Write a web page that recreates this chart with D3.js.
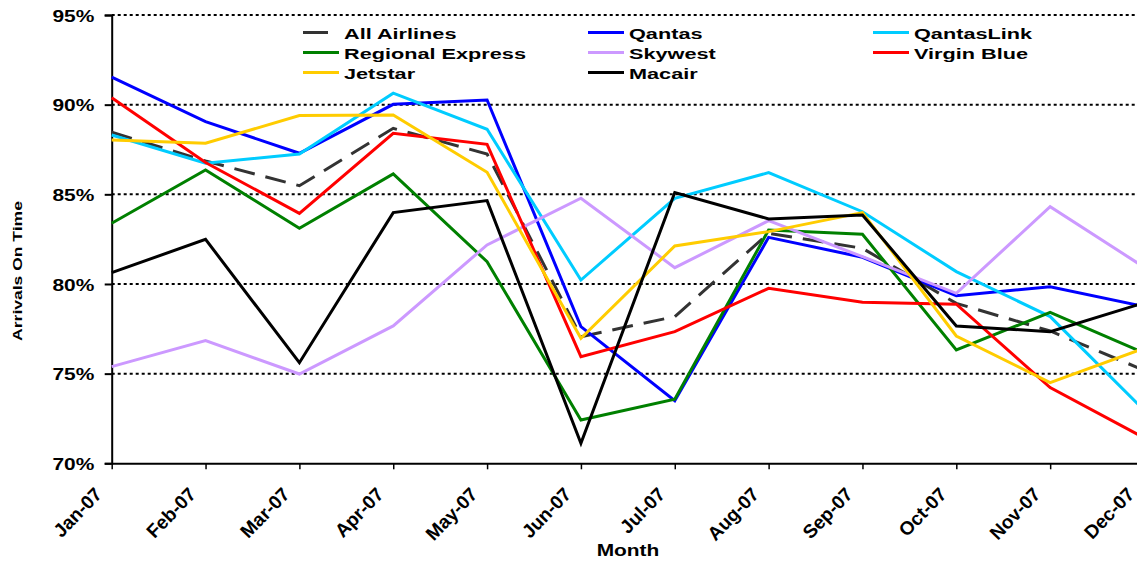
<!DOCTYPE html>
<html><head><meta charset="utf-8">
<script src="https://cdn.jsdelivr.net/npm/d3@7"></script>
<style>
html,body{margin:0;padding:0;background:#fff;}
svg{display:block;font-family:"Liberation Sans",Arial,sans-serif;font-weight:bold;}
</style></head>
<body><svg id="c" width="1137" height="562"></svg>
<script>
const months = ["Jan-07","Feb-07","Mar-07","Apr-07","May-07","Jun-07","Jul-07","Aug-07","Sep-07","Oct-07","Nov-07","Dec-07"];
const yTicks = [70,75,80,85,90,95];
const seriesNames = ["All Airlines","Qantas","QantasLink","Regional Express","Skywest","Virgin Blue","Jetstar","Macair"];
const seriesColors = ["#333333","#0000FF","#00CCFF","#008000","#CC99FF","#FF0000","#FFCC00","#000000"];
const allAirlines     = [88.46,86.86,85.48,88.68,87.25,77.06,78.18,82.83,81.99,78.92,77.38,75.19];
const qantas          = [91.53,89.05,87.29,90.02,90.26,77.62,73.49,82.60,81.49,79.35,79.85,78.75];
const qantasLink      = [88.31,86.73,87.25,90.64,88.63,80.22,84.78,86.21,84.03,80.69,78.18,72.96];
const regionalExpress = [83.39,86.36,83.11,86.14,81.24,72.41,73.57,83.01,82.77,76.32,78.42,76.15];
const skywest         = [75.39,76.84,74.98,77.66,82.18,84.78,80.91,83.53,81.52,79.48,84.31,80.94];
const virginBlue      = [90.39,86.77,83.94,88.40,87.79,75.95,77.34,79.76,78.98,78.87,74.22,71.43];
const jetstar         = [88.03,87.85,89.39,89.43,86.23,76.97,82.12,82.92,83.98,77.10,74.50,76.41];
const macair          = [80.63,82.49,75.61,83.98,84.65,71.12,85.10,83.63,83.85,77.66,77.34,78.95];
const seriesValues = [allAirlines,qantas,qantasLink,regionalExpress,skywest,virginBlue,jetstar,macair];

const svg = d3.select("#c");
const x0 = 111.7, xEnd = 1144, yTop = 15, yBot = 463.3;
const x = d3.scalePoint().domain(months).range([x0, xEnd]);
const y = d3.scaleLinear().domain([70,95]).range([yBot, yTop]);

// gridlines
svg.append("g").selectAll("line").data(yTicks.filter(d=>d>70)).join("line")
  .attr("x1", x0).attr("x2", 1137).attr("y1", d=>y(d)).attr("y2", d=>y(d))
  .attr("stroke","#000").attr("stroke-width",2).attr("stroke-dasharray","3,3");

// y axis
const ya = svg.append("g").attr("transform",`translate(${x0},0)`)
  .call(d3.axisLeft(y).tickValues(yTicks).tickSize(7).tickFormat(d=>d+"%"));
ya.select(".domain").attr("stroke","#000").attr("stroke-width",2);
ya.selectAll(".tick line").attr("stroke","#000").attr("stroke-width",2);
ya.selectAll(".tick text").attr("x",null).attr("dy",null)
  .attr("font-size",17).attr("font-weight","bold").attr("fill","#000")
  .attr("text-anchor","end")
  .attr("transform","translate(-17.4,6.3) scale(1.23,1)");

// x axis
const xa = svg.append("g").attr("transform",`translate(0,${yBot})`)
  .call(d3.axisBottom(x).tickSize(6).tickSizeOuter(0));
xa.select(".domain").attr("stroke","#000").attr("stroke-width",2);
xa.selectAll(".tick line").attr("stroke","#000").attr("stroke-width",1.5);
xa.selectAll(".tick text").attr("y",null).attr("dy",null)
  .attr("font-size",19).attr("font-weight","bold").attr("fill","#000")
  .attr("text-anchor","end")
  .attr("transform","translate(-9,32) rotate(-46)");

// lines
const line = d3.line().x((d,i)=>x(months[i])).y(d=>y(d));
svg.append("g").selectAll("path").data(seriesValues).join("path")
  .attr("d", d=>line(d)).attr("fill","none")
  .attr("stroke",(d,i)=>seriesColors[i]).attr("stroke-width",3)
  .attr("stroke-linejoin","miter")
  .attr("stroke-dasharray",(d,i)=>i===0?"21,11":null);

// legend
const colX = [303, 588, 873], rowY = [32.5, 52.5, 72.5];
const lg = svg.append("g").selectAll("g").data(seriesNames).join("g")
  .attr("transform",(d,i)=>`translate(${colX[i%3]},${rowY[Math.floor(i/3)]})`);
lg.append("line").attr("x1",0).attr("x2",(d,i)=>i===0?25:36).attr("y1",0).attr("y2",0)
  .attr("stroke",(d,i)=>seriesColors[i]).attr("stroke-width",3);
lg.append("text").text(d=>d).attr("font-size",15.5).attr("fill","#000")
  .attr("transform","translate(41,6) scale(1.4,1)");

// axis titles
svg.append("text").text("Month").attr("font-size",17).attr("fill","#000")
  .attr("text-anchor","middle").attr("transform","translate(628,556) scale(1.23,1)");
svg.append("text").text("Arrivals On Time").attr("font-size",12).attr("fill","#000")
  .attr("text-anchor","middle").attr("transform","translate(22,271) rotate(-90) scale(1.46,1)");
</script></body></html>
